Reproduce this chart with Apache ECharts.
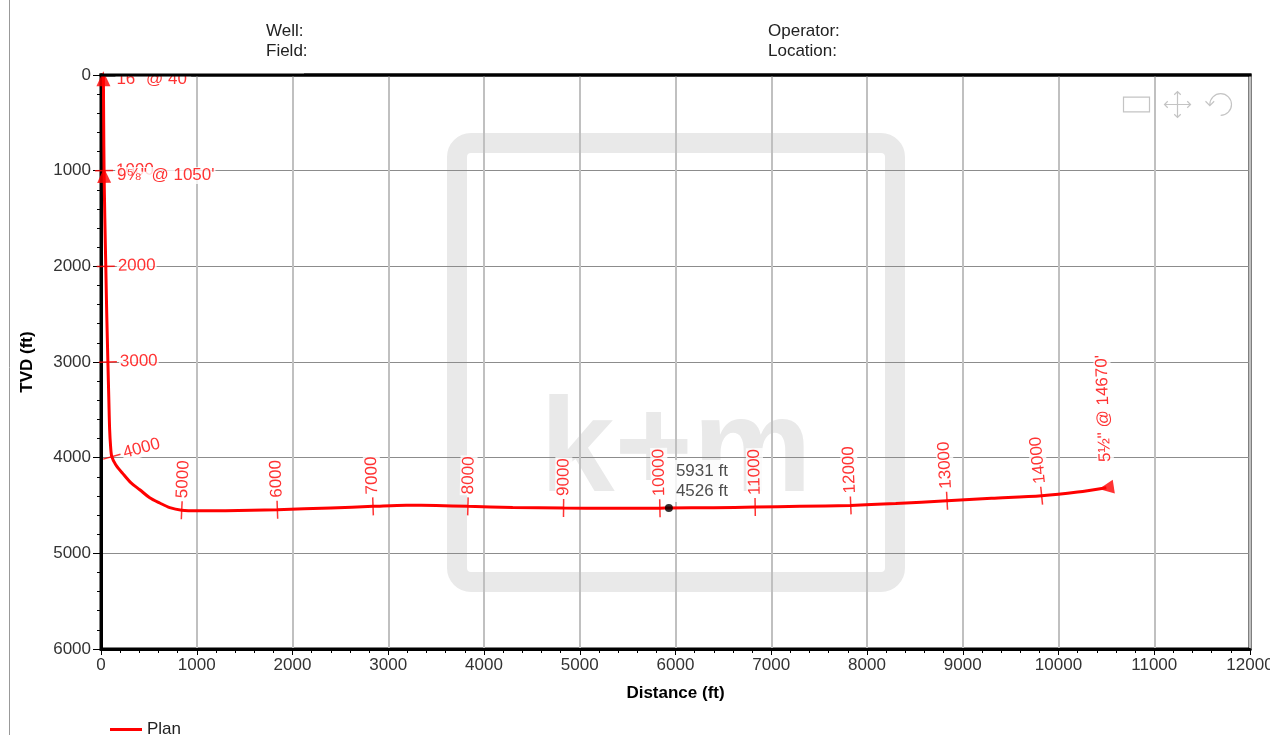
<!DOCTYPE html>
<html><head><meta charset="utf-8">
<script src="https://cdn.jsdelivr.net/npm/echarts@6/dist/echarts.min.js"></script>
<style>html,body{margin:0;padding:0;background:#fff}#c{width:1270px;height:735px}</style>
</head><body><div id="c"></div>
<script>
// Plan trajectory: horizontal distance (ft) and TVD (ft)
const planDistance = [25, 28, 32, 40, 50, 60, 72, 82, 90, 100, 113, 154, 228, 311, 405, 509, 614, 718, 843, 1000, 1300, 1842, 2400, 2841, 3189, 3500, 3832, 4300, 4831, 5300, 5837, 5931, 6400, 6832, 7300, 7830, 8300, 8836, 9300, 9824, 10200, 10500];
const planTvd      = [0, 500, 1000, 1500, 2000, 2500, 3000, 3400, 3700, 3880, 3990, 4074, 4167, 4261, 4335, 4419, 4474, 4522, 4549, 4556, 4554, 4544, 4525, 4509, 4497, 4500, 4509, 4520, 4526, 4529, 4528, 4526, 4523, 4516, 4509, 4499, 4480, 4450, 4425, 4398, 4360, 4315];

// Measured-depth ticks along the path
const mdLabels   = [1000, 2000, 3000, 4000, 5000, 6000, 7000, 8000, 9000, 10000, 11000, 12000, 13000, 14000];
const mdDistance = [32, 50, 72, 113, 843, 1842, 2841, 3832, 4831, 5837, 6832, 7830, 8836, 9824];
const mdTvd      = [1000, 2000, 3000, 3990, 4549, 4544, 4509, 4509, 4526, 4528, 4516, 4499, 4450, 4398];

// Casing shoes
const casingLabels   = ['16" @ 40\'', '9⅝" @ 1050\'', '5½" @ 14670\''];
const casingDistance = [25, 32, 10500];
const casingTvd      = [40, 1050, 4315];

// Highlighted point
const markerPoint = [5931, 4526];

const headerLeft  = ['Well:', 'Field:'];
const headerRight = ['Operator:', 'Location:'];

const FONT = '"Liberation Sans", Arial, sans-serif';

// local direction of the path (angle from vertical, radians)
function inclination(x, y) {
  let best = 0, bd = Infinity;
  for (let i = 0; i < planDistance.length; i++) {
    const d = Math.hypot(planDistance[i] - x, planTvd[i] - y);
    if (d < bd) { bd = d; best = i; }
  }
  const n = planDistance.length - 1;
  let a = Math.max(0, best - 1), b = Math.min(n, best + 1);
  let th = Math.atan2(planDistance[b] - planDistance[a], planTvd[b] - planTvd[a]);
  if (th > Math.PI / 3 && best < n) {
    a = best; b = best + 1;
    th = Math.atan2(planDistance[b] - planDistance[a], planTvd[b] - planTvd[a]);
  }
  return th;
}

function labelItem(x, y, text, gap, rotOverride) {
  const th = inclination(x, y);
  const deg = rotOverride != null ? rotOverride : th * 180 / Math.PI;
  const t = deg * Math.PI / 180;
  return {
    value: [x, y],
    label: {
      show: true,
      formatter: text,
      position: [0.5 + Math.cos(t) * gap, 0.5 - Math.sin(t) * gap],
      rotate: deg,
      align: 'left',
      verticalAlign: 'middle'
    }
  };
}

const planData = planDistance.map((d, i) => [d, planTvd[i]]);
const tickData = mdDistance.map((d, i) => ({
  value: [d, mdTvd[i]],
  symbolRotate: inclination(d, mdTvd[i]) * 180 / Math.PI
}));
const mdLabelData = mdDistance.map((d, i) => labelItem(d, mdTvd[i], String(mdLabels[i]), 11));
const shoeData = casingDistance.map((d, i) => ({
  value: [d, casingTvd[i]],
  symbolRotate: inclination(d, casingTvd[i]) * 180 / Math.PI
}));
const shoeLabelData = casingDistance.map((d, i) => {
  const th = inclination(d, casingTvd[i]);
  const horiz = th > Math.PI / 4;
  return labelItem(d, casingTvd[i], casingLabels[i], horiz ? 25 : 12, horiz ? 92 : 0);
});

const chart = echarts.init(document.getElementById('c'), null, { renderer: 'canvas' });
chart.setOption({
  animation: false,
  backgroundColor: '#fff',
  textStyle: { fontFamily: FONT },
  grid: { left: 101, top: 75, width: 1149, height: 574, show: true, borderColor: '#000', borderWidth: 3, outerBoundsMode: 'none', containLabel: false },
  xAxis: {
    type: 'value', min: 0, max: 12000, interval: 1000,
    name: 'Distance (ft)', nameLocation: 'middle', nameGap: 36,
    nameTextStyle: { fontSize: 17, fontWeight: 'bold', color: '#000', fontFamily: FONT },
    axisLine: { onZero: false, lineStyle: { color: '#000', width: 3 } },
    axisTick: { show: true, length: 6, lineStyle: { color: '#000' } },
    minorTick: { show: true, splitNumber: 5, length: 4, lineStyle: { color: '#000' } },
    splitLine: { show: true, lineStyle: { color: '#c0c0c0', width: 2 } },
    axisLabel: { fontSize: 17, color: '#333', margin: 8, fontFamily: FONT, formatter: v => String(v) }
  },
  yAxis: {
    type: 'value', inverse: true, min: 0, max: 6000, interval: 1000,
    name: 'TVD (ft)', nameLocation: 'middle', nameGap: 65,
    nameTextStyle: { fontSize: 17, fontWeight: 'bold', color: '#000', fontFamily: FONT },
    axisLine: { onZero: false, lineStyle: { color: '#000', width: 3 } },
    axisTick: { show: true, length: 8, lineStyle: { color: '#000' } },
    minorTick: { show: true, splitNumber: 5, length: 4, lineStyle: { color: '#000' } },
    splitLine: { show: true, lineStyle: { color: '#8c8c8c', width: 1 } },
    axisLabel: { fontSize: 17, color: '#333', margin: 10, fontFamily: FONT, formatter: v => String(v) }
  },
  legend: {
    data: [{ name: 'Plan', icon: 'rect' }], left: 105, top: 716, itemWidth: 32, itemHeight: 3, itemGap: 8,
    textStyle: { fontSize: 17, color: '#222', fontFamily: FONT }
  },
  toolbox: {
    right: 36, top: 89, itemSize: 26, itemGap: 10, padding: 0,
    iconStyle: { borderColor: '#c4c4c4', borderWidth: 1.2, color: 'none' },
    feature: {
      myRect: { show: true, title: ' ', icon: 'path://M0,0H28V16H0Z', onclick: function () {} },
      myMove: { show: true, title: ' ', icon: 'path://M12,0L12,24M0,12L24,12M9,3L12,0L15,3M9,21L12,24L15,21M3,9L0,12L3,15M21,9L24,12L21,15', onclick: function () {} },
      myRestore: { show: true, title: ' ', icon: 'path://M4,12A10,10 0 1 1 14,22M0,9L4,13L8,9', onclick: function () {} }
    }
  },
  graphic: [
    { type: 'line', shape: { x1: 9.5, y1: 0, x2: 9.5, y2: 735 }, style: { stroke: '#999', lineWidth: 1 }, z: -1 },
    { type: 'rect', shape: { x: 457, y: 143, width: 438, height: 439, r: 14 }, style: { fill: 'none', stroke: '#e9e9e9', lineWidth: 20 }, z: -1 },
    { type: 'text', x: 676, y: 454, style: { text: 'k+m', font: 'bold 134px "Liberation Sans", Arial, sans-serif', fill: '#e9e9e9', align: 'center', verticalAlign: 'middle' }, z: -1 },
    { type: 'rect', shape: { x: 104, y: 60, width: 200, height: 14 }, style: { fill: '#fff' }, z: 50 },
    { type: 'line', shape: { x1: 99.5, y1: 75, x2: 1251.5, y2: 75 }, style: { stroke: '#000', lineWidth: 3 }, z: 55 },
    { type: 'text', x: 266, y: 31, style: { text: headerLeft[0], font: '17px ' + FONT, fill: '#222', verticalAlign: 'middle' }, z: 60 },
    { type: 'text', x: 266, y: 51, style: { text: headerLeft[1], font: '17px ' + FONT, fill: '#222', verticalAlign: 'middle' }, z: 60 },
    { type: 'text', x: 768, y: 31, style: { text: headerRight[0], font: '17px ' + FONT, fill: '#222', verticalAlign: 'middle' }, z: 60 },
    { type: 'text', x: 768, y: 51, style: { text: headerRight[1], font: '17px ' + FONT, fill: '#222', verticalAlign: 'middle' }, z: 60 }
  ],
  series: [
    {
      name: 'Plan', type: 'line', data: planData, symbol: 'none', showSymbol: false, smooth: 0.3,
      lineStyle: { color: '#ff0000', width: 3 }, itemStyle: { color: '#ff0000' }, z: 2, silent: true
    },
    {
      name: 'mdTicks', type: 'scatter', data: tickData, symbol: 'rect', symbolSize: [18, 1.5],
      itemStyle: { color: '#ff0000' }, z: 3, silent: true
    },
    {
      name: 'mdLabels', type: 'scatter', data: mdLabelData, symbol: 'circle', symbolSize: 1,
      itemStyle: { color: 'transparent' }, z: 4, silent: true,
      label: { show: true, fontSize: 17, color: '#ff0000', fontFamily: FONT, backgroundColor: '#fff', padding: [0, 1] }
    },
    {
      name: 'shoes', type: 'scatter', data: shoeData, symbol: 'triangle', symbolSize: [14, 15],
      itemStyle: { color: '#ff0000' }, z: 5, silent: true
    },
    {
      name: 'shoeLabels', type: 'scatter', data: shoeLabelData, symbol: 'circle', symbolSize: 1,
      itemStyle: { color: 'transparent' }, z: 6, silent: true,
      label: { show: true, fontSize: 17, color: '#ff0000', fontFamily: FONT, backgroundColor: '#fff', padding: [0, 1] }
    },
    {
      name: 'marker', type: 'scatter', data: [markerPoint], symbol: 'circle', symbolSize: 8,
      itemStyle: { color: '#000' }, z: 7, silent: true,
      label: {
        show: true, position: [9, -44], align: 'left', verticalAlign: 'top',
        formatter: p => p.value[0] + ' ft\n' + p.value[1] + ' ft',
        fontSize: 17, lineHeight: 20, color: '#222', fontFamily: FONT, backgroundColor: '#fff', padding: [1, 2]
      }
    }
  ]
});
</script></body></html>
